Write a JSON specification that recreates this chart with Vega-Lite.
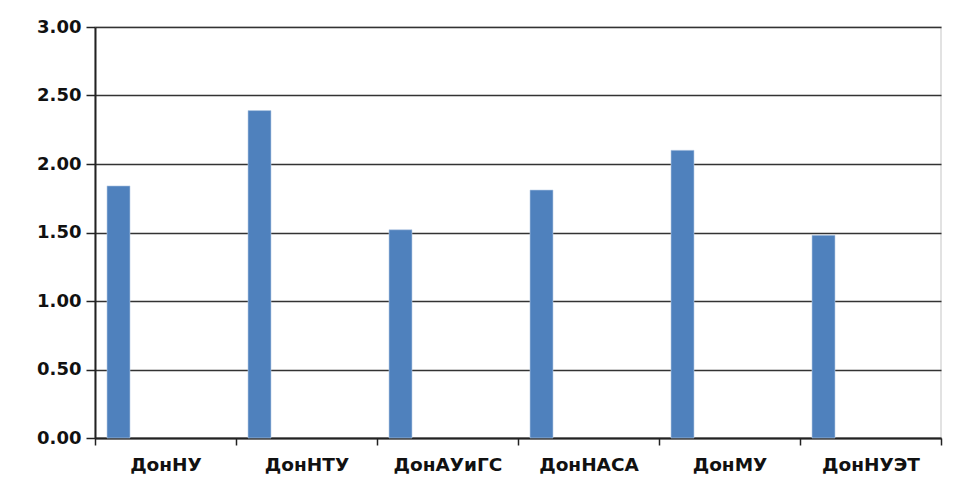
{
  "$schema": "https://vega.github.io/schema/vega-lite/v6.json",
  "autosize": {"type": "none"},
  "width": 846,
  "height": 411,
  "padding": {"left": 95, "top": 27, "right": 17, "bottom": 59},
  "background": "white",
  "view": {"stroke": "#d9d9d9", "strokeWidth": 1.5},
  "config": {"font": "DejaVu Sans"},
  "data": {
    "values": [
      {"university": "ДонНУ", "value": 1.84},
      {"university": "ДонНТУ", "value": 2.39},
      {"university": "ДонАУиГС", "value": 1.52},
      {"university": "ДонНАСА", "value": 1.81},
      {"university": "ДонМУ", "value": 2.1},
      {"university": "ДонНУЭТ", "value": 1.48}
    ]
  },
  "mark": {"type": "bar", "width": 23, "xOffset": -47, "color": "#4F81BD", "stroke": "#b9cde6", "strokeWidth": 0.6},
  "encoding": {
    "x": {
      "field": "university",
      "type": "nominal",
      "sort": null,
      "title": null,
      "scale": {"paddingInner": 0, "paddingOuter": 0},
      "axis": {
        "grid": false,
        "labelAngle": 0,
        "labelFont": "DejaVu Sans",
        "labelFontSize": 18.5,
        "labelFontWeight": "bold",
        "labelColor": "#111111",
        "labelPadding": 10,
        "tickBand": "extent",
        "tickSize": 7,
        "tickColor": "#222222",
        "tickWidth": 1.5,
        "domainColor": "#222222",
        "domainWidth": 2
      }
    },
    "y": {
      "field": "value",
      "type": "quantitative",
      "title": null,
      "scale": {"domain": [0, 3], "nice": false},
      "axis": {
        "values": [0, 0.5, 1, 1.5, 2, 2.5, 3],
        "format": ".2f",
        "labelFont": "DejaVu Sans",
        "labelFontSize": 18,
        "labelFontWeight": "bold",
        "labelColor": "#111111",
        "labelPadding": 5,
        "tickSize": 9,
        "tickColor": "#222222",
        "tickWidth": 1.5,
        "domainColor": "#222222",
        "domainWidth": 2,
        "grid": true,
        "gridColor": "#333333",
        "gridWidth": 1.6
      }
    }
  }
}
